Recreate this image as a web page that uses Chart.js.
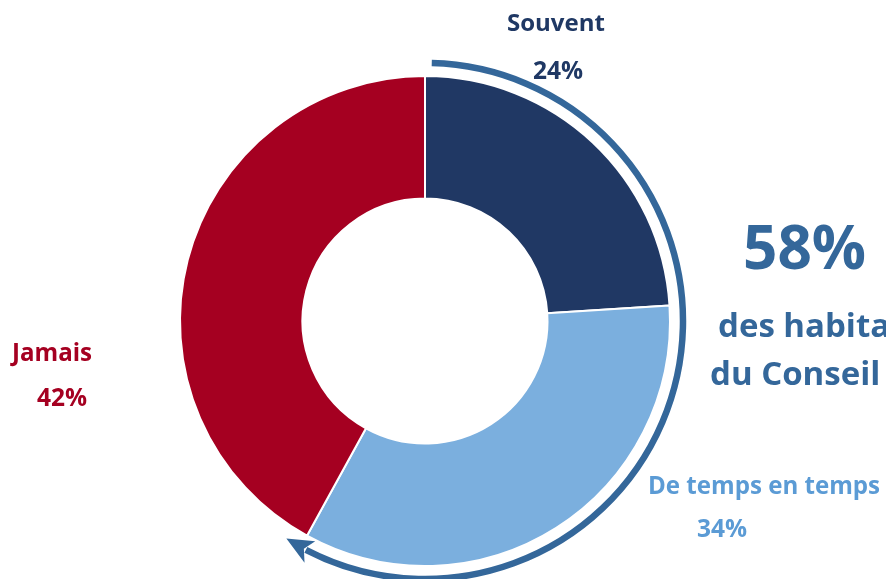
<!DOCTYPE html>
<html lang="fr">
<head>
<meta charset="UTF-8">
<title>Fréquence</title>
<script src="https://cdn.jsdelivr.net/npm/chart.js"></script>
<style>
  body { margin: 0; background: #ffffff; overflow: hidden; }
  #wrap { width: 886px; height: 579px; }
</style>
</head>
<body>
<div id="wrap"><canvas id="donut" width="886" height="579"></canvas></div>
<script>
// données
const categories = ['Souvent', 'De temps en temps', 'Jamais'];
const valeurs = [24, 34, 42];
const couleurs = ['#203864', '#7BAFDE', '#A50021'];
const couleursTexte = ['#1F3864', '#5B9BD5', '#A50021'];
const totalTexte = ['58%', 'des habitants', 'du Conseil citoyen'];

const FONT = '"Open Sans", Lato, sans-serif';

// position des étiquettes : gauche, milieu vertical, largeur visée
const labelPos = [
  { x1: 507, y1: 24, w1: 98, x2: 533, y2: 72 },
  { x1: 648, y1: 487, w1: 232, x2: 697, y2: 530 },
  { x1: 12, y1: 354, w1: 80, x2: 37, y2: 399 }
];

// taille de police pour qu'un texte ait la largeur voulue
function fitFont(ctx, txt, w) {
  ctx.font = 'bold 20px ' + FONT;
  const s = 20 * w / ctx.measureText(txt).width;
  return 'bold ' + s.toFixed(1) + 'px ' + FONT;
}

const decorPlugin = {
  id: 'decor',
  afterDatasetsDraw(chart) {
    const ctx = chart.ctx;
    const arc0 = chart.getDatasetMeta(0).data[0];
    const cx = arc0.x, cy = arc0.y;
    const r = arc0.outerRadius + 13;
    const deg = d => (d - 90) * Math.PI / 180;

    // arc bleu 58%
    ctx.save();
    ctx.strokeStyle = '#34679A';
    ctx.fillStyle = '#34679A';
    ctx.lineWidth = 6.5;
    ctx.beginPath();
    ctx.arc(cx, cy, r, deg(1.5), deg(207.5));
    ctx.stroke();
    // pointe de flèche
    const pt = (a, rr) => [cx + rr * Math.cos(deg(a)), cy + rr * Math.sin(deg(a))];
    const tip = pt(212.5, r);
    const w1 = pt(206.5, r + 12);
    const w2 = pt(206.5, r - 12);
    const notch = pt(208, r);
    ctx.beginPath();
    ctx.moveTo(tip[0], tip[1]);
    ctx.lineTo(w1[0], w1[1]);
    ctx.lineTo(notch[0], notch[1]);
    ctx.lineTo(w2[0], w2[1]);
    ctx.closePath();
    ctx.fill();
    ctx.restore();

    // étiquettes
    ctx.save();
    ctx.textBaseline = 'middle';
    ctx.textAlign = 'left';
    categories.forEach((cat, i) => {
      const p = labelPos[i];
      ctx.fillStyle = couleursTexte[i];
      ctx.font = fitFont(ctx, cat, p.w1);
      ctx.fillText(cat, p.x1, p.y1);
      ctx.font = fitFont(ctx, valeurs[i] + '%', 50);
      ctx.fillText(valeurs[i] + '%', p.x2, p.y2);
    });

    // texte 58%
    ctx.fillStyle = '#34679A';
    ctx.font = fitFont(ctx, totalTexte[0], 123);
    ctx.fillText(totalTexte[0], 743, 252);
    ctx.font = fitFont(ctx, 'des habita', 172);
    ctx.fillText(totalTexte[1], 718, 328);
    ctx.fillText(totalTexte[2], 710, 376);
    ctx.restore();
  }
};

new Chart(document.getElementById('donut'), {
  type: 'doughnut',
  data: {
    labels: categories,
    datasets: [{
      data: valeurs,
      backgroundColor: couleurs,
      borderColor: '#ffffff',
      borderWidth: 2
    }]
  },
  options: {
    responsive: false,
    animation: false,
    cutout: '50%',
    layout: { padding: { left: 179, right: 215, top: 75, bottom: 12 } },
    plugins: {
      legend: { display: false },
      tooltip: { enabled: false }
    }
  },
  plugins: [decorPlugin]
});
</script>
</body>
</html>
